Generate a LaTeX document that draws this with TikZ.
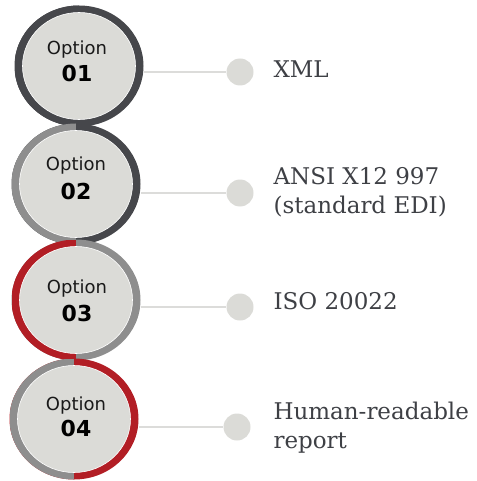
\documentclass[tikz,border=0pt]{standalone}
\usepackage{fontspec}
\usepackage{tikz}
\usetikzlibrary{shapes.geometric}

\newfontfamily\optfont{DejaVu Sans}
\newfontfamily\labfont{DejaVu Serif}

\definecolor{ringdark}{HTML}{46474B}
\definecolor{ringgray}{HTML}{8E8E8E}
\definecolor{ringred}{HTML}{B21E25}
\definecolor{diskfill}{HTML}{DBDBD7}
\definecolor{linkgray}{HTML}{DCDCDA}
\definecolor{textgray}{HTML}{3E4045}

\begin{document}
\begin{tikzpicture}[x=1pt,y=-1pt,
  ring/.style 2 args={ellipse,inner sep=0pt,minimum width=129pt,minimum height=121pt,fill=#2,
    path picture={\fill[#1] (path picture bounding box.north west) rectangle (path picture bounding box.south);}},
  disk/.style={ellipse,inner sep=0pt,minimum width=113pt,minimum height=107pt,fill=diskfill,draw=white,line width=0.6pt},
  optword/.style={anchor=base,text=black!90,font=\optfont\fontsize{18}{20}\selectfont},
  optnum/.style={anchor=base,text=black,font=\optfont\bfseries\fontsize{22}{24}\selectfont},
  link/.style={draw=linkgray,line width=2pt},
  dot/.style={circle,inner sep=0pt,minimum size=27pt,fill=diskfill},
  labtext/.style={anchor=west,align=left,text=textgray,font=\labfont\fontsize{23}{29}\selectfont}]

\useasboundingbox (0,0) rectangle (476,481);

% option 01
\node[ring={ringdark}{ringdark}] (opt1) at (79,66) {};
\node[disk] (disk1) at (opt1) {};
\node[optword] (word1) at (77,55) {Option};
\node[optnum] (num1) at (77,82) {01};

% option 02
\node[ring={ringgray}{ringdark}] (opt2) at (76,184) {};
\node[disk] (disk2) at (opt2) {};
\node[optword] (word2) at (76,170) {Option};
\node[optnum] (num2) at (76,199) {02};

% option 03
\node[ring={ringred}{ringgray}] (opt3) at (76,300) {};
\node[disk] (disk3) at (opt3) {};
\node[optword] (word3) at (77,293) {Option};
\node[optnum] (num3) at (77,321) {03};

% option 04
\node[ring={ringgray}{ringred}] (opt4) at (74,419) {};
\node[disk] (disk4) at (opt4) {};
\node[optword] (word4) at (76,410) {Option};
\node[optnum] (num4) at (76,436) {04};

% dots and connectors
\node[dot] (dot1) at (240,72) {};
\node[dot] (dot2) at (240,193) {};
\node[dot] (dot3) at (240,307) {};
\node[dot] (dot4) at (237,427) {};

\draw[link] (opt1.east |- dot1) -- (dot1.west);
\draw[link] (opt2.east |- dot2) -- (dot2.west);
\draw[link] (opt3.east |- dot3) -- (dot3.west);
\draw[link] (opt4.east |- dot4) -- (dot4.west);

% formats
\node[labtext] (lab1) at (270,69) {XML};
\node[labtext] (lab2) at (270,192) {ANSI X12 997\\(standard EDI)};
\node[labtext] (lab3) at (270,301) {ISO 20022};
\node[labtext] (lab4) at (270,428) {Human-readable\\report};

\end{tikzpicture}
\end{document}
